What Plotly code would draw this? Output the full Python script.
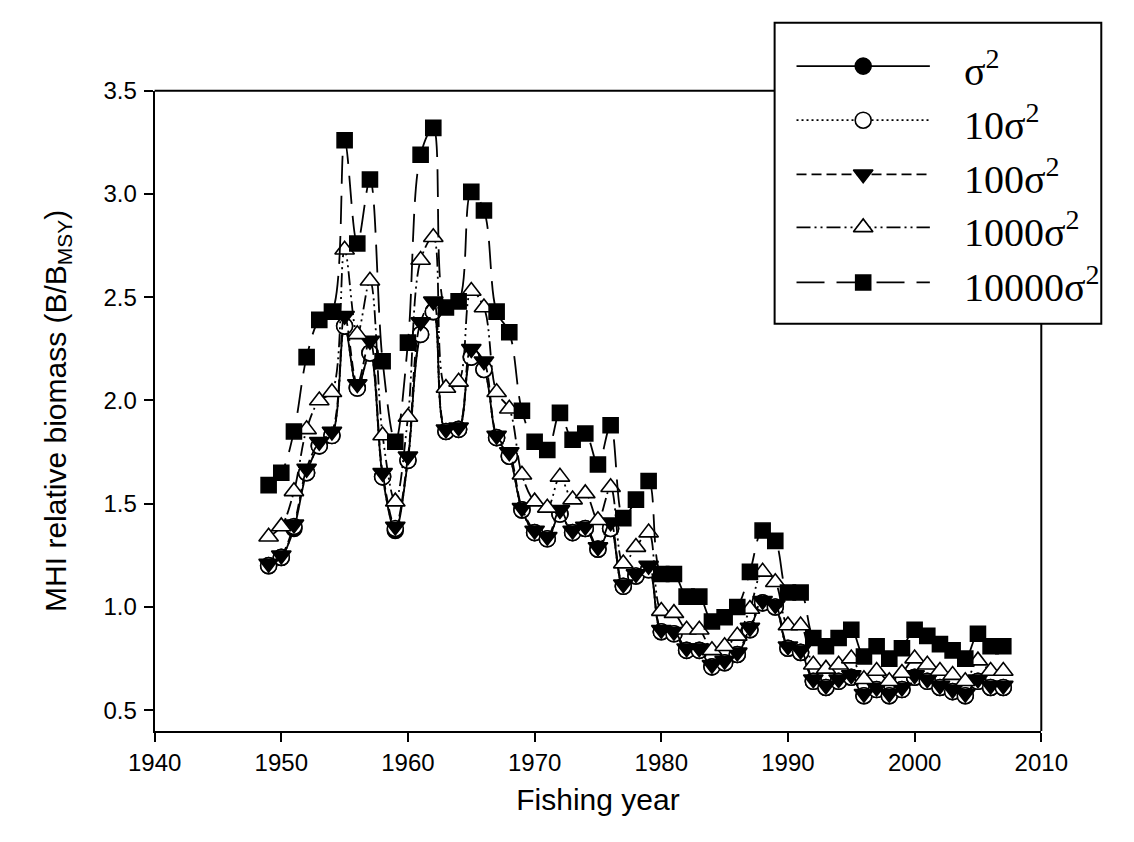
import plotly.graph_objects as go

years = list(range(1949, 2008))

s1 = [1.20, 1.24, 1.38, 1.65, 1.78, 1.83, 2.36, 2.06, 2.23, 1.63, 1.37, 1.71, 2.32, 2.43, 1.85, 1.86,
      2.21, 2.15, 1.82, 1.73, 1.47, 1.36, 1.33, 1.45, 1.36, 1.38, 1.28, 1.38, 1.10, 1.15, 1.18, 0.88,
      0.87, 0.79, 0.79, 0.71, 0.73, 0.77, 0.89, 1.02, 1.00, 0.80, 0.78, 0.64, 0.61, 0.64, 0.66, 0.57,
      0.60, 0.57, 0.60, 0.66, 0.64, 0.61, 0.59, 0.57, 0.64, 0.61, 0.61]
s10 = [1.20, 1.24, 1.39, 1.65, 1.78, 1.83, 2.36, 2.06, 2.23, 1.63, 1.38, 1.71, 2.32, 2.43, 1.85, 1.86,
       2.21, 2.15, 1.82, 1.73, 1.47, 1.36, 1.33, 1.45, 1.36, 1.38, 1.28, 1.38, 1.10, 1.15, 1.18, 0.88,
       0.87, 0.79, 0.79, 0.71, 0.73, 0.77, 0.89, 1.02, 1.00, 0.80, 0.78, 0.64, 0.61, 0.64, 0.66, 0.57,
       0.60, 0.57, 0.60, 0.66, 0.64, 0.61, 0.59, 0.57, 0.64, 0.61, 0.61]
s100 = [1.21, 1.25, 1.40, 1.67, 1.80, 1.85, 2.41, 2.08, 2.29, 1.65, 1.39, 1.73, 2.38, 2.48, 1.86, 1.87,
        2.25, 2.19, 1.83, 1.75, 1.48, 1.37, 1.34, 1.47, 1.37, 1.39, 1.29, 1.41, 1.11, 1.16, 1.20, 0.89,
        0.88, 0.80, 0.80, 0.72, 0.74, 0.78, 0.90, 1.03, 1.01, 0.81, 0.79, 0.65, 0.62, 0.65, 0.67, 0.58,
        0.61, 0.58, 0.61, 0.67, 0.65, 0.62, 0.60, 0.58, 0.65, 0.62, 0.62]
s1000 = [1.34, 1.39, 1.56, 1.86, 2.00, 2.04, 2.73, 2.32, 2.58, 1.83, 1.51, 1.92, 2.68, 2.79, 2.06, 2.09,
         2.53, 2.45, 2.04, 1.96, 1.64, 1.51, 1.48, 1.63, 1.52, 1.55, 1.42, 1.58, 1.21, 1.29, 1.36, 0.98,
         0.97, 0.89, 0.89, 0.79, 0.81, 0.86, 0.99, 1.17, 1.12, 0.91, 0.91, 0.72, 0.70, 0.72, 0.75, 0.65,
         0.69, 0.64, 0.68, 0.75, 0.72, 0.69, 0.67, 0.64, 0.74, 0.69, 0.69]
s10000 = [1.59, 1.65, 1.85, 2.21, 2.39, 2.43, 3.26, 2.76, 3.07, 2.19, 1.80, 2.28, 3.19, 3.32, 2.45, 2.48,
          3.01, 2.92, 2.43, 2.33, 1.95, 1.80, 1.76, 1.94, 1.81, 1.84, 1.69, 1.88, 1.43, 1.52, 1.61, 1.16,
          1.16, 1.05, 1.05, 0.93, 0.95, 1.00, 1.17, 1.37, 1.32, 1.07, 1.07, 0.85, 0.81, 0.85, 0.89, 0.76,
          0.81, 0.75, 0.80, 0.89, 0.86, 0.82, 0.79, 0.75, 0.87, 0.81, 0.81]

labels = ["σ<sup>2</sup>", "10σ<sup>2</sup>", "100σ<sup>2</sup>", "1000σ<sup>2</sup>", "10000σ<sup>2</sup>"]
xticks = [1940, 1950, 1960, 1970, 1980, 1990, 2000, 2010]
yticks = [0.5, 1.0, 1.5, 2.0, 2.5, 3.0, 3.5]

W, H = 1134, 842
PL, PR, PT, PB = 134, 1065, 78, 729  # plot area pixels
LX0, LX1, LY0, LY1 = 785, 1128, 9, 315  # legend box pixels

styles = [
    dict(dash="solid", symbol="circle", mfill="black", size=16),
    dict(dash="2px,3px", symbol="circle", mfill="white", size=16),
    dict(dash="10px,5px", symbol="triangle-down", mfill="black", size=17),
    dict(dash="14px,4px,2px,4px,2px,4px", symbol="triangle-up", mfill="white", size=17),
    dict(dash="28px,12px", symbol="square", mfill="black", size=15),
]
series = [s1, s10, s100, s1000, s10000]

fig = go.Figure()
for vals, st in zip(series, styles):
    fig.add_trace(go.Scatter(
        x=years, y=vals, mode="lines+markers",
        line=dict(color="black", width=1.8, dash=st["dash"], shape="spline", smoothing=1.0),
        marker=dict(symbol=st["symbol"], size=st["size"], color=st["mfill"],
                    line=dict(color="black", width=1.6)),
        showlegend=False, xaxis="x", yaxis="y", cliponaxis=False,
    ))

# custom legend drawn on an inset axis in pixel-like units
row_y = [53, 108, 163, 217, 273]
for ry, st, lab in zip(row_y, styles, labels):
    fig.add_trace(go.Scatter(
        x=[808, 948], y=[ry, ry], mode="lines",
        line=dict(color="black", width=1.8, dash=st["dash"]),
        showlegend=False, xaxis="x2", yaxis="y2", hoverinfo="skip",
    ))
    fig.add_trace(go.Scatter(
        x=[878], y=[ry], mode="markers",
        marker=dict(symbol=st["symbol"], size=st["size"], color=st["mfill"],
                    line=dict(color="black", width=1.6)),
        showlegend=False, xaxis="x2", yaxis="y2", hoverinfo="skip",
    ))
    fig.add_annotation(x=982, y=ry + 2, xref="x2", yref="y2", text=lab, showarrow=False,
                       xanchor="left", yanchor="middle",
                       font=dict(family="Liberation Serif", size=40, color="black"))

axis_font = dict(family="Liberation Sans", size=24, color="black")
title_font = dict(family="Liberation Sans", size=30, color="black")
fig.update_layout(
    width=W, height=H,
    margin=dict(l=0, r=0, t=0, b=0),
    paper_bgcolor="white", plot_bgcolor="white",
    xaxis=dict(domain=[PL / W, PR / W], range=[1940, 2010], tickvals=xticks,
               showgrid=False, zeroline=False, showline=True, linecolor="black", linewidth=2,
               ticks="outside", ticklen=9, tickwidth=1.5, tickcolor="black",
               tickfont=axis_font,
               title=dict(text="Fishing year", font=title_font, standoff=14)),
    yaxis=dict(domain=[1 - PB / H, 1 - PT / H], range=[0.4, 3.5], tickvals=yticks, tickformat=".1f",
               showgrid=False, zeroline=False, showline=True, linecolor="black", linewidth=2,
               ticks="outside", ticklen=9, tickwidth=1.5, tickcolor="black",
               tickfont=axis_font, ticklabelstandoff=2,
               title=dict(text="MHI relative biomass (B/B<sub>MSY</sub>)", font=title_font, standoff=28)),
    xaxis2=dict(domain=[LX0 / W, LX1 / W], range=[LX0, LX1], visible=False, fixedrange=True),
    yaxis2=dict(domain=[1 - LY1 / H, 1 - LY0 / H], range=[LY1, LY0], visible=False, fixedrange=True),
    shapes=[
        # legend box
        dict(type="rect", xref="paper", yref="paper", x0=LX0 / W, x1=LX1 / W,
             y0=1 - LY1 / H, y1=1 - LY0 / H, line=dict(color="black", width=2), layer="above"),
        # top frame segment left of legend
        dict(type="line", xref="paper", yref="paper", x0=PL / W, x1=LX0 / W,
             y0=1 - PT / H, y1=1 - PT / H, line=dict(color="black", width=2)),
        # right frame segment below legend
        dict(type="line", xref="paper", yref="paper", x0=PR / W, x1=PR / W,
             y0=1 - PB / H, y1=1 - LY1 / H, line=dict(color="black", width=2)),
    ],
)

fig.write_html("out.html")
